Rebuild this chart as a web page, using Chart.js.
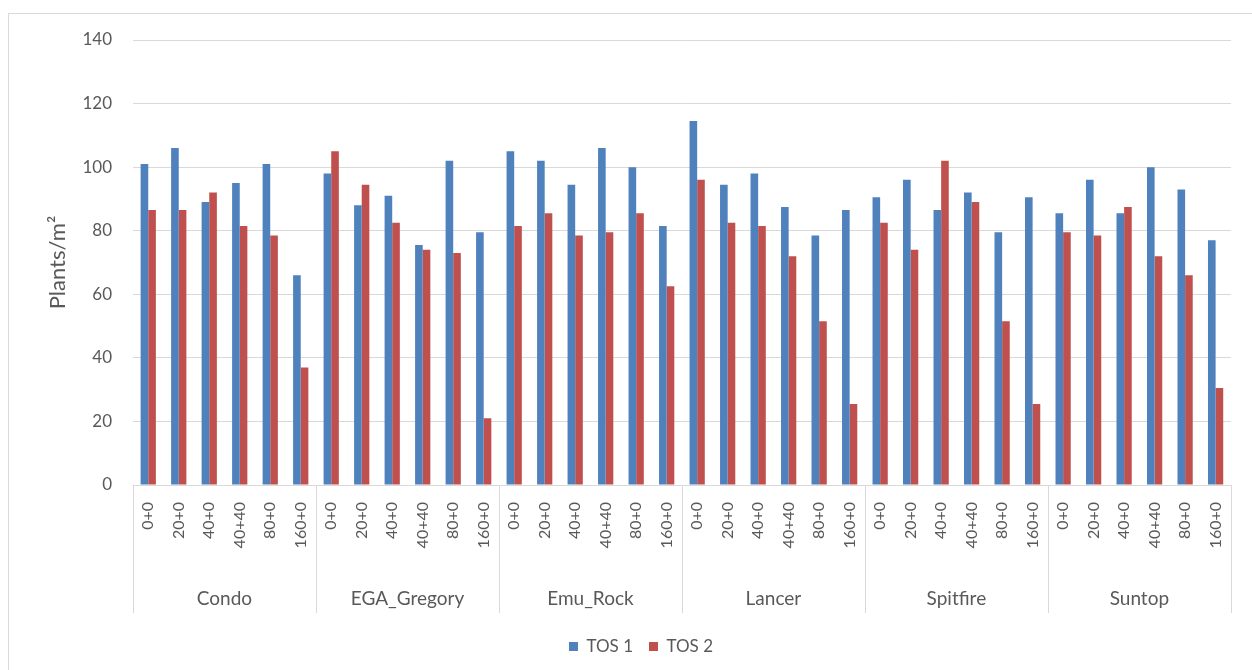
<!DOCTYPE html>
<html>
<head>
<meta charset="utf-8">
<script src="https://cdn.jsdelivr.net/npm/chart.js@4/dist/chart.umd.min.js"></script>
<style>
  html, body { margin: 0; padding: 0; background: #fff; }
  #wrap { width: 1252px; height: 670px; position: relative; }
</style>
</head>
<body>
<div id="wrap"><canvas id="plants"></canvas></div>
<script>
const sites = ['Condo', 'EGA_Gregory', 'Emu_Rock', 'Lancer', 'Spitfire', 'Suntop'];
const treatments = ['0+0', '20+0', '40+0', '40+40', '80+0', '160+0'];

// TOS 1, site by site in the order above
const tos1 = [
    101, 106, 89, 95, 101, 66,
    98, 88, 91, 75.5, 102, 79.5,
    105, 102, 94.5, 106, 100, 81.5,
    114.5, 94.5, 98, 87.5, 78.5, 86.5,
    90.5, 96, 86.5, 92, 79.5, 90.5,
    85.5, 96, 85.5, 100, 93, 77
];
// TOS 2
const tos2 = [
    86.5, 86.5, 92, 81.5, 78.5, 37,
    105, 94.5, 82.5, 74, 73, 21,
    81.5, 85.5, 78.5, 79.5, 85.5, 62.5,
    96, 82.5, 81.5, 72, 51.5, 25.5,
    82.5, 74, 102, 89, 51.5, 25.5,
    79.5, 78.5, 87.5, 72, 66, 30.5
];
const yTicks = [0, 20, 40, 60, 80, 100, 120, 140];

const labels = [];
sites.forEach(s => treatments.forEach(t => labels.push(t)));

const txt = '#595959';
const grid = '#d9d9d9';
const fam = 'Lato, "Open Sans", sans-serif';

// frame round the whole chart + separators between the site groups
const frame = {
    id: 'frame',
    beforeDraw(chart) {
        const c = chart.ctx;
        c.save();
        c.fillStyle = '#fff';
        c.fillRect(0, 0, chart.width, chart.height);
        c.strokeStyle = grid;
        c.lineWidth = 1;
        c.strokeRect(8.5, 13.5, chart.width + 20, chart.height + 20);
        c.restore();
    },
    afterDraw(chart) {
        const x = chart.scales.x;
        const x2 = chart.scales.x2;
        const c = chart.ctx;
        c.save();
        c.strokeStyle = grid;
        c.lineWidth = 1;
        const n = treatments.length;
        for (let g = 0; g <= sites.length; g++) {
            let px;
            if (g === 0) px = x.left;
            else if (g === sites.length) px = x.right;
            else px = (x.getPixelForValue(g * n - 1) + x.getPixelForValue(g * n)) / 2;
            px = Math.round(px) + 0.5;
            c.beginPath();
            c.moveTo(px, x.top);
            c.lineTo(px, x2.top + 26);
            c.stroke();
        }
        c.restore();
    }
};

new Chart(document.getElementById('plants'), {
    type: 'bar',
    data: {
        labels: labels,
        datasets: [
            { label: 'TOS 1', data: tos1, backgroundColor: '#4f81bd', borderWidth: 0 },
            { label: 'TOS 2', data: tos2, backgroundColor: '#c0504d', borderWidth: 0 }
        ]
    },
    options: {
        responsive: true,
        maintainAspectRatio: false,
        animation: false,
        categoryPercentage: 0.5,
        barPercentage: 1.0,
        layout: { padding: { left: 44, right: 14, top: 40, bottom: 5 } },
        plugins: {
            legend: {
                position: 'bottom',
                labels: {
                    color: txt,
                    font: { family: fam, size: 17 },
                    boxWidth: 9,
                    boxHeight: 9,
                    padding: 16
                }
            },
            tooltip: { enabled: false }
        },
        scales: {
            x: {
                weight: 0,
                grid: { display: false, drawTicks: false },
                border: { display: true, color: grid },
                ticks: {
                    color: txt,
                    font: { family: fam, size: 16 },
                    autoSkip: false,
                    minRotation: 90,
                    maxRotation: 90,
                    padding: 17
                },
                afterFit(scale) { scale.height = 102; }
            },
            x2: {
                type: 'category',
                position: 'bottom',
                weight: 1,
                labels: sites,
                grid: { display: false, drawTicks: false },
                border: { display: false },
                ticks: {
                    color: txt,
                    font: { family: fam, size: 19 },
                    padding: 0
                },
                afterFit(scale) { scale.height = 35; }
            },
            y: {
                min: 0,
                max: 140,
                afterBuildTicks(scale) { scale.ticks = yTicks.map(v => ({ value: v })); },
                grid: { color: grid, drawTicks: false },
                border: { display: false },
                ticks: {
                    color: txt,
                    font: { family: fam, size: 17 },
                    padding: 21
                },
                title: {
                    display: true,
                    text: 'Plants/m²',
                    color: txt,
                    font: { family: fam, size: 22 },
                    padding: { top: 1, bottom: 0 }
                },
                afterFit(scale) { scale.width = 89; }
            }
        }
    },
    plugins: [frame]
});
</script>
</body>
</html>
